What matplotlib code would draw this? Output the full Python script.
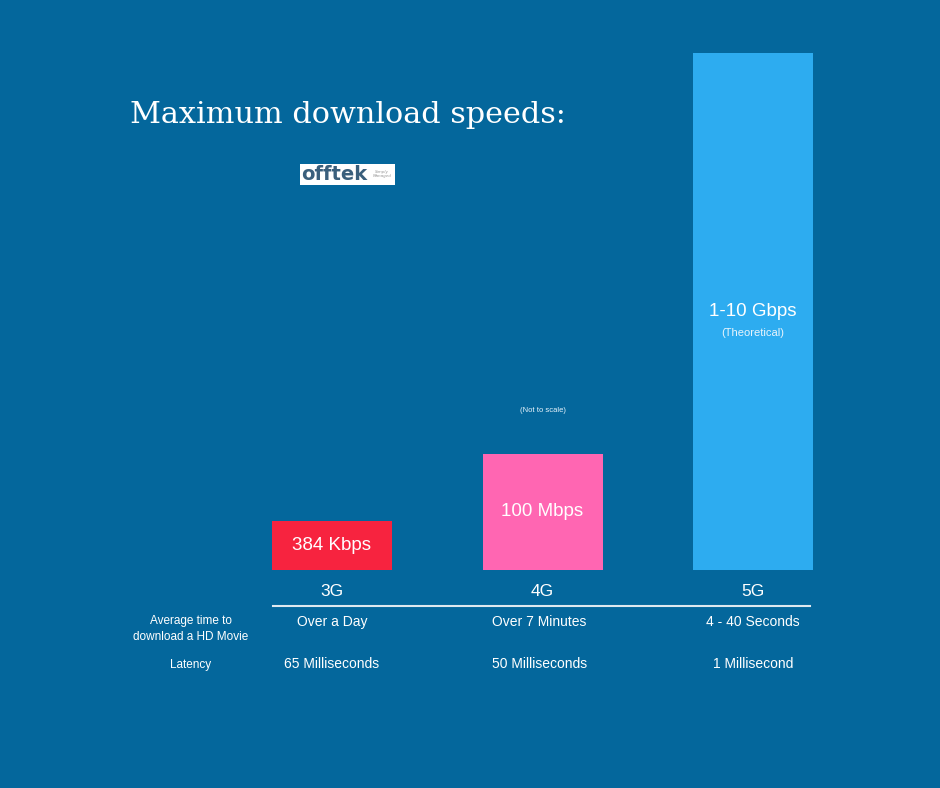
import matplotlib.pyplot as plt
from matplotlib.patches import Rectangle

# donnees (hauteurs "pas a l'echelle", en pixels du visuel)
generations = ["3G", "4G", "5G"]
bar_heights = [49, 116, 517]
speed_labels = ["384 Kbps", "100 Mbps", "1-10 Gbps"]
movie_times = ["Over a Day", "Over 7 Minutes", "4 - 40 Seconds"]
latencies = ["65 Milliseconds", "50 Milliseconds", "1 Millisecond"]
bar_colors = ["#F7233F", "#FF66B2", "#2DACF0"]

BG = "#04679C"
W, H = 940, 788

fig = plt.figure(figsize=(W / 100, H / 100), dpi=100, facecolor=BG)

# axe : 1 unite en y = 1 pixel, categories espacees de ~210 px
x0_px, step_px, base_px = 332, 210.5, 570
ax = fig.add_axes([0, 1 - base_px / H, 1, base_px / H])
ax.set_facecolor(BG)
ax.set_xlim(-x0_px / step_px, (W - x0_px) / step_px)
ax.set_ylim(0, base_px)
ax.axis("off")

xs = list(range(len(generations)))
ax.bar(xs, bar_heights, width=120 / step_px, color=bar_colors, linewidth=0)

font = "Liberation Sans"
for i, (h, lab) in enumerate(zip(bar_heights, speed_labels)):
    ax.text(i, h / 2, lab, ha="center", va="center", color="white",
            fontsize=13.5, family=font)
ax.text(2, bar_heights[2] / 2 - 21, "(Theoretical)", ha="center", va="center",
        color="#e8f4fc", fontsize=8, family=font)
ax.text(1, bar_heights[1] + 43, "(Not to scale)", ha="center", va="center",
        color="#e8f4fc", fontsize=5.5, family=font)

def py(p):
    # pixel (depuis le haut) -> coordonnee y des donnees
    return base_px - p

for i, g in enumerate(generations):
    ax.text(i, py(591), g, ha="center", va="center", color="white",
            fontsize=12.5, family=font, clip_on=False)
    ax.text(i - (0.014 if i == 1 else 0), py(622), movie_times[i], ha="center",
            va="center", color="white", fontsize=10, family=font, clip_on=False)
    ax.text(i - (0.014 if i == 1 else 0), py(664), latencies[i], ha="center",
            va="center", color="white", fontsize=10, family=font, clip_on=False)

# ligne de separation
ax.plot([(273 - x0_px) / step_px, (810 - x0_px) / step_px], [py(606), py(606)],
        color="#dfe9f0", linewidth=1.5, clip_on=False)

# libelles des lignes
lab_x = (191 - x0_px) / step_px
ax.text(lab_x, py(629), "Average time to\ndownload a HD Movie", ha="center",
        va="center", color="white", fontsize=8.5, family=font,
        linespacing=1.35, clip_on=False)
ax.text(lab_x, py(665), "Latency", ha="center", va="center", color="white",
        fontsize=8.5, family=font, clip_on=False)

# titre
fig.text(130 / W, 1 - 115 / H, "Maximum download speeds:", ha="left",
         va="center", color="white", fontsize=21.8, family="DejaVu Serif")

# logo
fig.patches.append(Rectangle((300 / W, 1 - 185 / H), 95 / W, 21 / H,
                             transform=fig.transFigure, facecolor="white",
                             edgecolor="none"))
fig.text(301 / W, 1 - 175 / H, "offtek", ha="left", va="center",
         color="#3a5f7c", fontsize=14, fontweight="bold", family="DejaVu Sans")
fig.text(382 / W, 1 - 174 / H, "Simply\nManaged", ha="center", va="center",
         color="#9a9a9a", fontsize=3, style="italic", family="DejaVu Sans")

fig.savefig("out.png", dpi=100, facecolor=BG)
